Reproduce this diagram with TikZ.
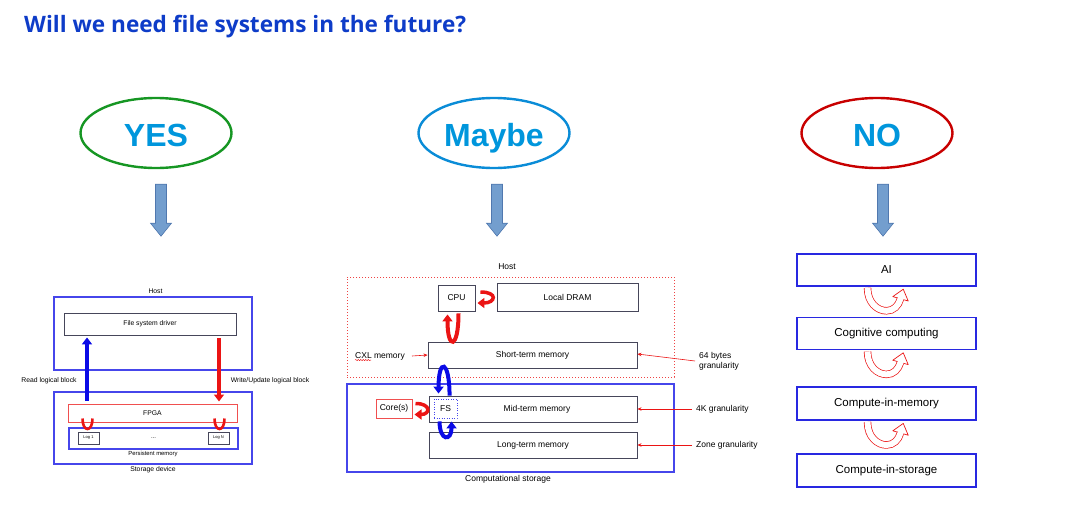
\documentclass[tikz,border=0pt]{standalone}
\usepackage{fontspec}
\setmainfont{Liberation Sans}
\newfontfamily\headfont{Open Sans}
\usepackage{xcolor}
\definecolor{headblue}{RGB}{14,60,200}
\definecolor{answerblue}{RGB}{0,150,220}
\definecolor{yesgreen}{RGB}{22,150,35}
\definecolor{maybeblue}{RGB}{10,140,215}
\definecolor{nored}{RGB}{200,0,0}
\definecolor{frameblue}{RGB}{70,70,235}
\definecolor{stepblue}{RGB}{40,40,225}
\definecolor{boxgray}{RGB}{70,70,90}
\definecolor{hotred}{RGB}{235,20,20}
\definecolor{pureblue}{RGB}{10,10,230}
\definecolor{blockfill}{RGB}{115,158,206}
\definecolor{blockdraw}{RGB}{80,120,175}
\usetikzlibrary{shapes.geometric,arrows.meta,positioning,calc,decorations.pathmorphing}

\tikzset{
  downarrow/.pic={
    \filldraw[fill=blockfill, draw=blockdraw, line width=0.6pt] (-5.5,0) -- (5.5,0) -- (5.5,39) -- (10.5,39) -- (0,52) -- (-10.5,39) -- (-5.5,39) -- cycle;
  },
  hollowturn/.pic={
    \filldraw[fill=white, draw=hotred, line width=0.7pt, line join=round] (6.3,9.8) -- (16.75,2.4) -- (21.7,14.2) -- cycle;
    \draw[hotred, line width=7.4pt] (-19,1) .. controls (-19,16) and (-9,24) .. (0,24) .. controls (7,24) and (12,19) .. (14,12);
    \draw[white, line width=6pt] (-19,1) .. controls (-19,16) and (-9,24) .. (0,24) .. controls (7,24) and (12,19) .. (14,12) -- (14.3,11);
  }
}

\begin{document}
\begin{tikzpicture}[
  x=1pt, y=-1pt,
  answer/.style={ellipse, line width=2.4pt, minimum width=151pt, minimum height=70pt, text height=27pt, text depth=0pt, inner sep=0pt, text=answerblue, font=\fontsize{32}{36}\selectfont\bfseries},
  bluebox/.style={draw=frameblue, line width=1.2pt, inner sep=0pt},
  graybox/.style={draw=boxgray, line width=0.9pt, inner sep=0pt},
  redbox/.style={draw=hotred!75, line width=1pt, inner sep=0pt},
  lbl/.style={inner sep=0pt},
  yestext/.style={font=\fontsize{6.8}{8}\selectfont},
  maybetext/.style={font=\fontsize{8.5}{10}\selectfont},
  stepbox/.style={draw=stepblue, line width=1.6pt, minimum width=179pt, font=\fontsize{11.5}{13}\selectfont},
  pointer/.style={draw=hotred, line width=0.6pt, -{Stealth[length=4pt,width=3.5pt]}},
  fatred/.style={draw=hotred, line width=4pt, -{Triangle[length=7pt,width=10pt]}},
  fatblue/.style={draw=pureblue, line width=4pt, -{Triangle[length=7pt,width=10pt]}},
  cupred/.style={draw=hotred, line width=2.6pt}
]
\useasboundingbox (0,0) rectangle (1080,525);

% title
\node[lbl, anchor=base west, text=headblue, font=\headfont\bfseries\fontsize{22.6}{27}\selectfont] (title) at (24,32.5) {Will we need file systems in the future?};

% the three answers
\node[answer, draw=yesgreen] (yes) at (156,133) {YES};
\node[answer, draw=maybeblue] (maybe) at (494,133) {Maybe};
\node[answer, draw=nored] (no) at (877,133) {NO};
\pic at ($(yes.south)+(5,15)$) {downarrow};
\pic at ($(maybe.south)+(3,15)$) {downarrow};
\pic at ($(no.south)+(6,15)$) {downarrow};

% YES: storage device with logs
\node[bluebox, minimum width=198pt, minimum height=73pt] (yeshost) at (153,333.5) {};
\node[lbl, yestext] (yeshostlbl) at (155.5,291) {Host};
\node[graybox, yestext, minimum width=172pt, minimum height=22pt] (fsd) at (150,324) {File system driver};
\node[bluebox, minimum width=198pt, minimum height=72pt] (stordev) at (153,428) {};
\node[redbox, yestext, minimum width=169pt, minimum height=18pt] (fpga) at (152.5,413) {FPGA};
\node[bluebox, minimum width=169pt, minimum height=21pt] (pmem) at (153.5,438.5) {};
\node[graybox, font=\fontsize{4}{5}\selectfont, minimum width=21pt, minimum height=12pt] (log1) at (88.5,438) {Log 1};
\node[graybox, font=\fontsize{4}{5}\selectfont, minimum width=21pt, minimum height=12pt] (logn) at (218.5,438) {Log N};
\node[lbl, font=\fontsize{6}{7}\selectfont] (logdots) at (pmem.center) {...};
\node[lbl, font=\fontsize{5.9}{7}\selectfont] (pmemlbl) at (153,454) {Persistent memory};
\node[lbl, yestext] (stordevlbl) at (153,470) {Storage device};
\node[lbl, yestext] (readlbl) at (49,381) {Read logical block};
\node[lbl, yestext] (writelbl) at (270,381) {Write/Update logical block};

\draw[fatblue, line width=4.5pt] ($(fpga.north -| log1)+(-1.5,-3)$) -- ($(fsd.south -| log1)+(-1.5,2)$);
\draw[fatred, line width=4.5pt] ($(fsd.south -| logn)+(0.5,3)$) -- ($(fpga.north -| logn)+(0.5,-2)$);
\draw[cupred] ($(fpga.south -| log1)+(-6,-4)$) .. controls +(0,14) and +(0,14) .. ($(fpga.south -| log1)+(4,-4)$);
\draw[cupred] ($(fpga.south -| logn)+(-4,-4)$) .. controls +(0,14) and +(0,14) .. ($(fpga.south -| logn)+(6,-4)$);

% Maybe: host and computational storage
\node[lbl, maybetext] (maybehostlbl) at (507,267) {Host};
\node[draw=hotred!80, dash pattern=on 1pt off 2pt, line width=1pt, inner sep=0pt, minimum width=327pt, minimum height=100pt] (maybehost) at (510.5,327) {};
\node[graybox, maybetext, minimum width=37pt, minimum height=26pt] (cpu) at (456.5,298) {CPU};
\node[graybox, maybetext, minimum width=141pt, minimum height=28pt] (dram) at (567.5,297) {Local DRAM};
\node[graybox, maybetext, minimum width=209pt, minimum height=26pt] (stm) at (532.5,355) {Short-term memory};
\node[lbl, maybetext, anchor=west] (cxl) at (355,356) {CXL memory};
\node[lbl, maybetext, anchor=west, align=left] (gran64) at (699,361) {64 bytes\\granularity};
\node[bluebox, minimum width=327pt, minimum height=88pt] (compstor) at (510.5,428) {};
\node[lbl, maybetext] (compstorlbl) at (508,479) {Computational storage};
\node[graybox, maybetext, minimum width=208pt, minimum height=26pt] (mtm) at (533,409) {\hspace{8pt}Mid-term memory};
\node[draw=frameblue, dash pattern=on 1pt off 1.5pt, line width=1pt, inner sep=0pt, minimum width=23pt, minimum height=19pt, maybetext] (fs) at (445.5,408.5) {FS};
\node[graybox, maybetext, minimum width=208pt, minimum height=26pt] (ltm) at (533,445) {Long-term memory};
\node[redbox, maybetext, minimum width=36pt, minimum height=19pt] (core) at (394,408.5) {Core(s)};
\node[lbl, maybetext, anchor=west] (gran4k) at (696,409) {4K granularity};
\node[lbl, maybetext, anchor=west] (granzone) at (696,445) {Zone granularity};

\draw[hotred, line width=0.4pt, decorate, decoration={snake, amplitude=0.6pt, segment length=2.5pt}] ($(cxl.base west)+(0,2)$) -- ++(16,0);
\draw[pointer] ($(cxl.east)+(7,0)$) -- (stm.west);
\draw[pointer] ($(gran64.west)+(-4,0)$) -- ($(stm.east)+(0,-1)$);
\draw[pointer] ($(gran4k.west)+(-4,0)$) -- (mtm.east);
\draw[pointer] ($(granzone.west)+(-4,0)$) -- (ltm.east);

\draw[fatred] ($(cpu.south)+(2,2)$) .. controls +(0,36) and +(0,36) .. ($(cpu.south)+(-9,3)$);
\draw[fatred, line width=3.5pt] ($(cpu.east)+(5,-6)$) .. controls +(18,0) and +(18,0) .. ($(cpu.east)+(2,5)$);
\draw[fatblue] ($(mtm.north west)+(21,0)$) .. controls +(0,-36) and +(0,-36) .. ($(mtm.north west)+(10,-2)$);
\draw[fatblue] ($(mtm.south west)+(11,-1)$) .. controls +(0,20) and +(0,20) .. ($(mtm.south west)+(23,-1)$);
\draw[fatred, line width=3.5pt] ($(core.east)+(3,-5)$) .. controls +(16,0) and +(16,0) .. ($(core.east)+(2,6)$);

% NO: compute stack
\node[stepbox, minimum height=32pt] (ai) at (886.5,270) {AI};
\node[stepbox, minimum height=32pt, below=30pt of ai] (cog) {Cognitive computing};
\node[stepbox, minimum height=33pt, below=36pt of cog] (cim) {Compute-in-memory};
\node[stepbox, minimum height=33pt, below=32pt of cim] (cis) {Compute-in-storage};
\pic at (ai.south) {hollowturn};
\pic at (cog.south) {hollowturn};
\pic at (cim.south) {hollowturn};
\end{tikzpicture}
\end{document}
